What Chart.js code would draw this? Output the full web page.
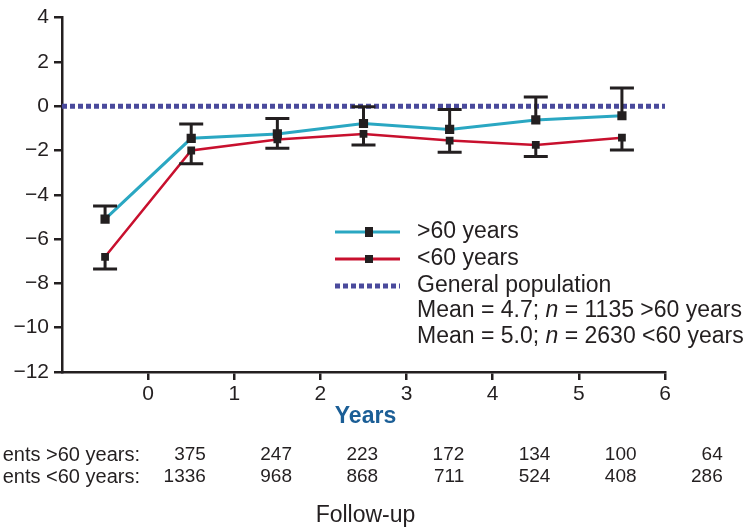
<!DOCTYPE html>
<html>
<head>
<meta charset="utf-8">
<script src="https://cdn.jsdelivr.net/npm/chart.js@4"></script>
<style>
  html, body { margin: 0; padding: 0; background: #fff; }
  #wrap { width: 749px; height: 532px; }
</style>
</head>
<body>
<div id="wrap"><canvas id="qolChart" width="749" height="532"></canvas></div>
<script>
// values
var years = [-0.5, 0.5, 1.5, 2.5, 3.5, 4.5, 5.5];
var over60 = [-5.1, -1.45, -1.25, -0.78, -1.05, -0.62, -0.43];
var over60Upper = [-4.5, -0.8, -0.55, -0.03, -0.15, 0.42, 0.82];
var under60 = [-6.8, -2.0, -1.5, -1.25, -1.55, -1.75, -1.42];
var under60Lower = [-7.35, -2.6, -1.9, -1.75, -2.08, -2.27, -1.98];
var generalX = [-1, 6];
var generalY = [0, 0];
var patientsOver60 = [375, 247, 223, 172, 134, 100, 64];
var patientsUnder60 = [1336, 968, 868, 711, 524, 408, 286];
var rowLabels = ['ents >60 years:', 'ents <60 years:'];

var ink = '#231f20';
var teal = '#2aa7c2';
var red = '#c8102e';
var navy = '#4a4a9c';
var sans = "'Liberation Sans', Arial, sans-serif";

function pts(xs, ys) {
    return xs.map(function (x, i) { return { x: x, y: ys[i] }; });
}

var extras = {
    id: 'extras',
    afterDatasetsDraw: function (chart) {
        var c = chart.ctx;
        var xs = chart.scales.x, ys = chart.scales.y;
        c.save();
        c.strokeStyle = ink;
        c.lineWidth = 3;
        // one-sided error bars
        years.forEach(function (yr, i) {
            var px = xs.getPixelForValue(yr);
            var a = ys.getPixelForValue(over60[i]), b = ys.getPixelForValue(over60Upper[i]);
            c.beginPath();
            c.moveTo(px, a); c.lineTo(px, b);
            c.moveTo(px - 12, b); c.lineTo(px + 12, b);
            c.stroke();
            a = ys.getPixelForValue(under60[i]); b = ys.getPixelForValue(under60Lower[i]);
            c.beginPath();
            c.moveTo(px, a); c.lineTo(px, b);
            c.moveTo(px - 12, b); c.lineTo(px + 12, b);
            c.stroke();
        });

        // legend
        var lx = 335, tx = 417;
        var rows = [232, 259, 286, 311, 337];
        c.lineWidth = 3;
        c.strokeStyle = teal;
        c.beginPath(); c.moveTo(lx, rows[0]); c.lineTo(lx + 65, rows[0]); c.stroke();
        c.fillStyle = ink;
        c.fillRect(lx + 30, rows[0] - 5, 8, 10);
        c.strokeStyle = red;
        c.beginPath(); c.moveTo(lx, rows[1]); c.lineTo(lx + 65, rows[1]); c.stroke();
        c.fillRect(lx + 30, rows[1] - 4, 8, 8);
        c.strokeStyle = navy;
        c.lineWidth = 5;
        c.setLineDash([5, 3]);
        c.beginPath(); c.moveTo(lx, rows[2]); c.lineTo(lx + 65, rows[2]); c.stroke();
        c.setLineDash([]);

        c.fillStyle = ink;
        c.textBaseline = 'middle';
        c.textAlign = 'left';
        c.font = '23px ' + sans;
        c.fillText('>60 years', tx, rows[0]);
        c.fillText('<60 years', tx, rows[1]);
        c.fillText('General population', tx, rows[2]);
        [['Mean = 4.7; ', ' = 1135 >60 years', 3], ['Mean = 5.0; ', ' = 2630 <60 years', 4]].forEach(function (r) {
            var x = tx, y = rows[r[2]];
            c.font = '23px ' + sans;
            c.fillText(r[0], x, y); x += c.measureText(r[0]).width;
            c.font = 'italic 23px ' + sans;
            c.fillText('n', x, y); x += c.measureText('n').width;
            c.font = '23px ' + sans;
            c.fillText(r[1], x, y);
        });

        // axis title
        c.textAlign = 'center';
        c.fillStyle = '#1b5e96';
        c.font = 'bold 23px ' + sans;
        c.fillText('Years', (xs.left + xs.right) / 2 + 2, 417);

        // patient numbers under the axis
        c.fillStyle = ink;
        c.textAlign = 'right';
        c.font = '20px ' + sans;
        c.fillText(rowLabels[0], 140, 455);
        c.fillText(rowLabels[1], 140, 477);
        c.font = '19px ' + sans;
        patientsOver60.forEach(function (n, i) {
            var px = xs.getPixelForValue(i + 0.67);
            c.fillText(String(n), px, 455);
            c.fillText(String(patientsUnder60[i]), px, 477);
        });
        c.textAlign = 'center';
        c.font = '23px ' + sans;
        c.fillText('Follow-up', (xs.left + xs.right) / 2 + 2, 516);
        c.restore();
    }
};

var ctx = document.getElementById('qolChart').getContext('2d');
var myChart = new Chart(ctx, {
    type: 'line',
    data: {
        datasets: [{
            label: 'General population',
            data: pts(generalX, generalY),
            borderColor: navy,
            borderWidth: 5,
            borderDash: [5, 3],
            pointRadius: 0
        }, {
            label: '>60 years',
            data: pts(years, over60),
            borderColor: teal,
            borderWidth: 3,
            pointStyle: 'rect',
            pointRadius: 6.5,
            pointBackgroundColor: ink,
            pointBorderWidth: 0
        }, {
            label: '<60 years',
            data: pts(years, under60),
            borderColor: red,
            borderWidth: 2.5,
            pointStyle: 'rect',
            pointRadius: 5.5,
            pointBackgroundColor: ink,
            pointBorderWidth: 0
        }]
    },
    options: {
        responsive: false,
        animation: false,
        layout: { padding: { top: 16, right: 84, left: 0, bottom: 0 } },
        plugins: { legend: { display: false }, tooltip: { enabled: false } },
        scales: {
            x: {
                type: 'linear',
                min: -1,
                max: 6,
                afterFit: function (s) { s.height = 160; },
                ticks: {
                    stepSize: 1,
                    color: ink,
                    font: { family: sans, size: 21 },
                    padding: 2,
                    callback: function (v) { return v < 0 ? '' : v; }
                },
                grid: {
                    drawOnChartArea: false,
                    tickLength: 8,
                    lineWidth: 2.5,
                    color: function (c) { return c.tick && c.tick.value < 0 ? 'rgba(0,0,0,0)' : ink; }
                },
                border: { display: true, color: ink, width: 2.5 }
            },
            y: {
                min: -12,
                max: 4,
                afterFit: function (s) { s.width = 62; },
                ticks: {
                    stepSize: 2,
                    color: ink,
                    font: { family: sans, size: 21 },
                    padding: 5,
                    callback: function (v) { return v < 0 ? '\u2212' + Math.abs(v) : v; }
                },
                grid: { drawOnChartArea: false, tickLength: 8, lineWidth: 2.5, color: ink },
                border: { display: true, color: ink, width: 2.5 }
            }
        }
    },
    plugins: [extras]
});
</script>
</body>
</html>
